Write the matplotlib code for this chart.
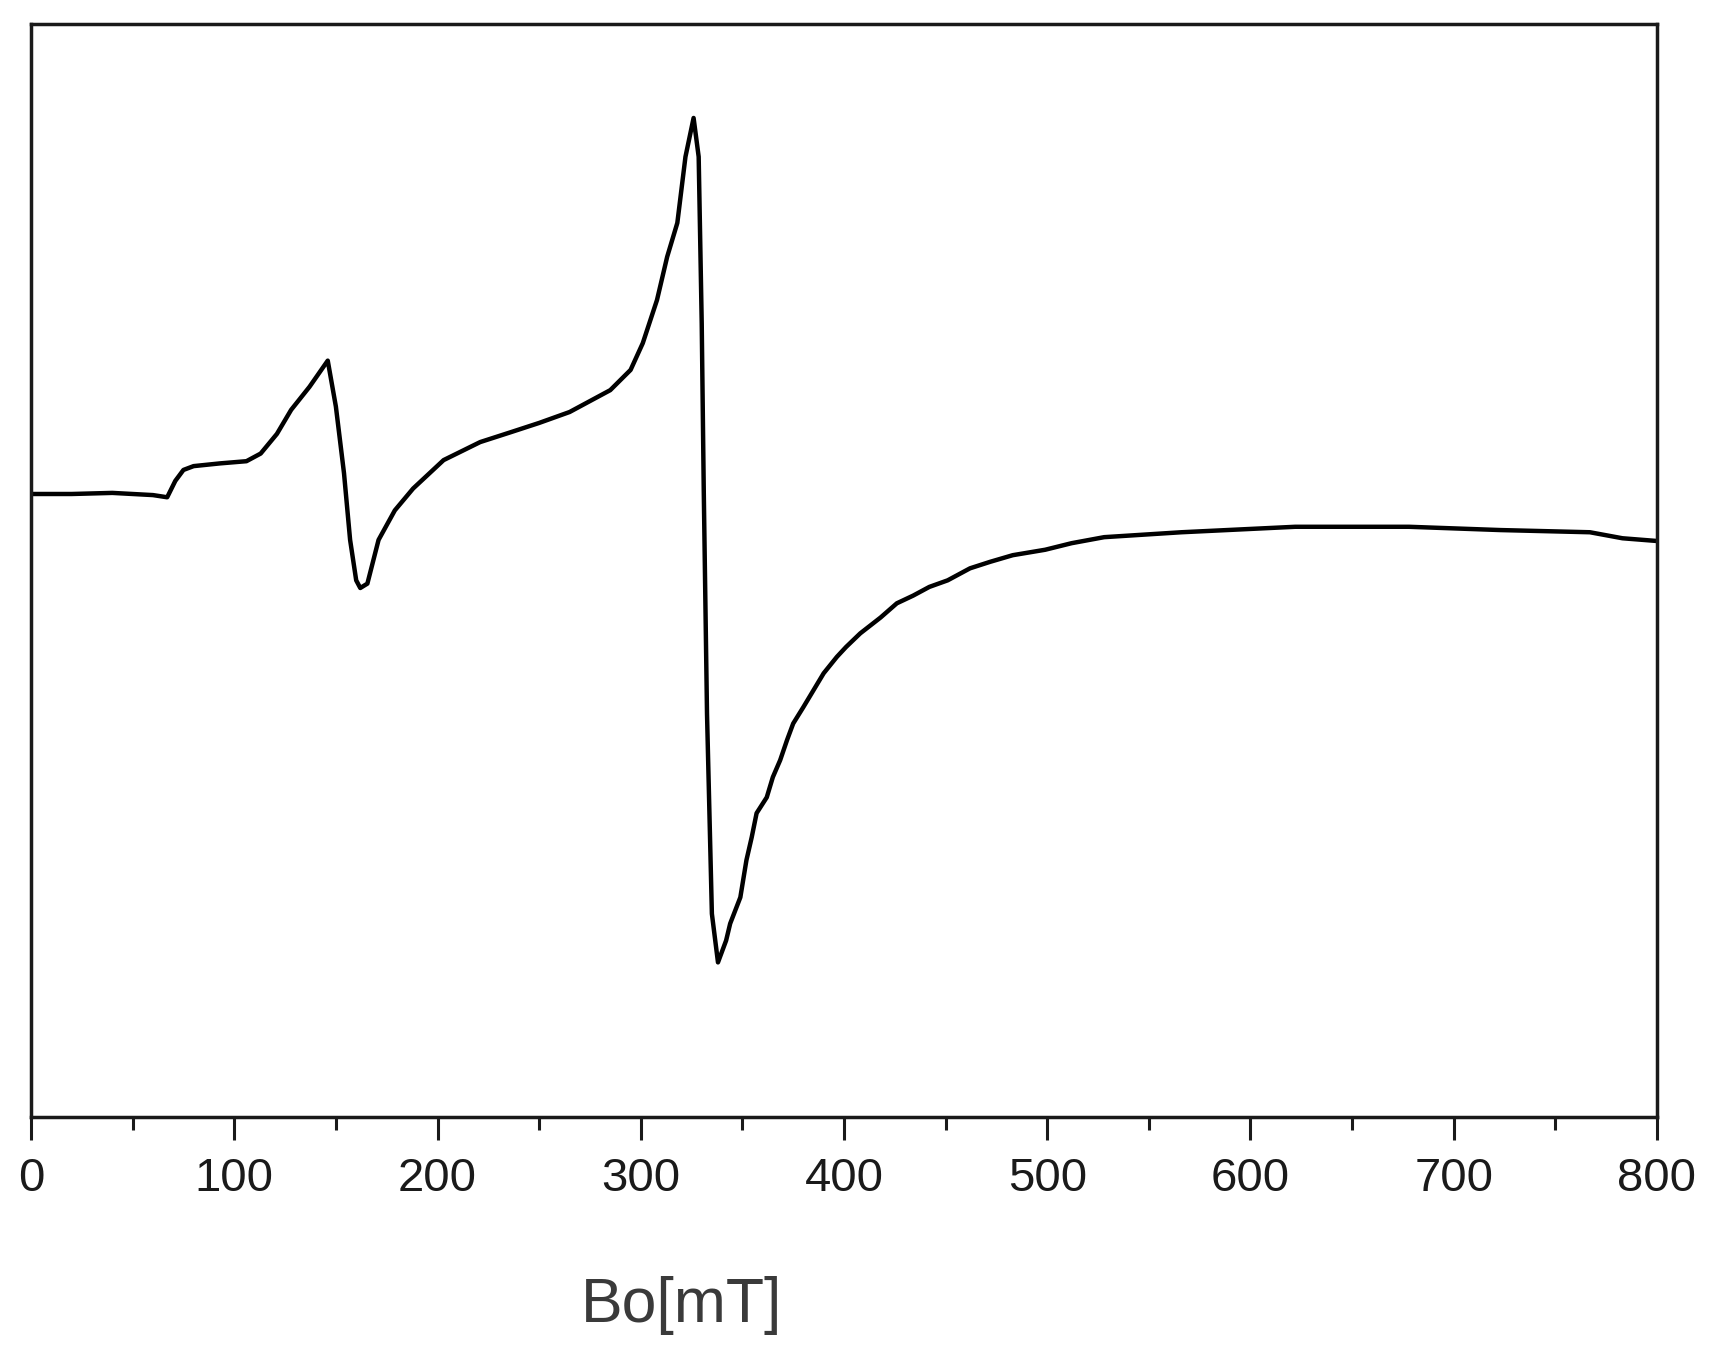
import numpy as np
import matplotlib
matplotlib.use("Agg")
from matplotlib import pyplot as plt
from matplotlib.ticker import MultipleLocator

plt.rcParams['font.family'] = ['Liberation Sans', 'DejaVu Sans']

# field (mT) and EPR signal (arb. units)
field = [0, 20, 40, 60, 67, 71, 75, 80, 93, 106, 113, 121, 128, 137, 146,
         150, 154, 157, 160, 162, 165.5, 171, 179, 188, 203, 221, 236, 250,
         265, 285, 295, 301, 308, 313, 318, 322, 326, 328.5, 330, 331, 332.6,
         335, 338, 342, 344, 349, 352, 354.6, 357, 362, 365, 368.6, 372, 375,
         380, 385, 390, 396.5, 401, 408, 418, 426, 434, 442, 451, 462, 472,
         483, 499, 512, 528, 566, 622, 678, 723, 767, 783, 800]
signal = [57.0, 57.0, 57.1, 56.9, 56.7, 58.2, 59.2, 59.55, 59.8, 60.0, 60.7,
          62.5, 64.7, 66.8, 69.2, 65.0, 58.9, 52.8, 49.1, 48.4, 48.8, 52.8,
          55.5, 57.5, 60.1, 61.75, 62.65, 63.5, 64.5, 66.5, 68.35, 70.8,
          74.75, 78.7, 81.8, 87.85, 91.4, 87.85, 72.6, 57.35, 36.9, 18.6,
          14.15, 16.15, 17.7, 20.1, 23.5, 25.6, 27.8, 29.25, 31.1, 32.65,
          34.5, 36.0, 37.5, 39.05, 40.6, 42.1, 43.0, 44.25, 45.7, 47.0, 47.7,
          48.5, 49.1, 50.2, 50.8, 51.4, 51.9, 52.5, 53.05, 53.5, 54.0, 54.0,
          53.7, 53.5, 52.95, 52.7]
xticks = [0, 100, 200, 300, 400, 500, 600, 700, 800]

fig = plt.figure(figsize=(17.13, 13.54), dpi=100)
ax = fig.add_axes([0.0181, 0.175, 0.9492, 0.8073])

ax.plot(field, signal, color='black', lw=3.2, solid_joinstyle='round')

ax.set_xlim(0, 800)
ax.set_ylim(0, 100)
ax.set_xticks(xticks)
ax.xaxis.set_minor_locator(MultipleLocator(50))
ax.set_yticks([])
ax.tick_params(axis='x', which='major', direction='out', length=16.5, width=2.2,
               labelsize=34, pad=12, colors='#1a1a1a')
ax.tick_params(axis='x', which='minor', direction='out', length=9.5, width=2.2,
               colors='#1a1a1a')
for s in ax.spines.values():
    s.set_linewidth(2.5)
    s.set_color('#1a1a1a')

ax.set_xlabel('Bo[mT]', fontsize=45, color='#3a3a3a')
ax.xaxis.set_label_coords(0.40, -0.172)
ax.xaxis.label.set_va('center')

fig.savefig('out.png', dpi=100, facecolor='white')
